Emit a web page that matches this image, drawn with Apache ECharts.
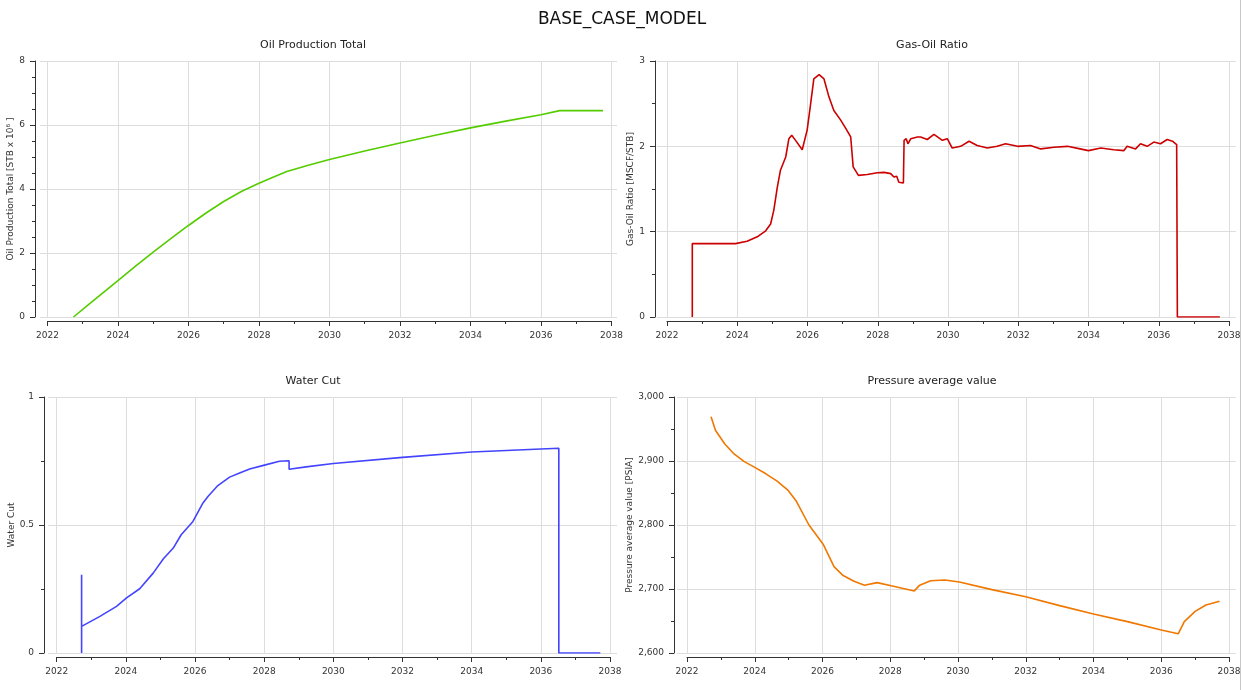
<!DOCTYPE html>
<html>
<head>
<meta charset="utf-8">
<script src="https://cdn.jsdelivr.net/npm/echarts@6/dist/echarts.min.js"></script>
<style>
html,body{margin:0;padding:0;background:#fff;}
#chart{width:1244px;height:690px;}
</style>
</head>
<body>
<div id="chart"></div>
<script>
// ---------------- DATA ----------------
const mainTitle = 'BASE_CASE_MODEL';
const panelTitles = ['Oil Production Total', 'Gas-Oil Ratio', 'Water Cut', 'Pressure average value'];
const axisNames = ['Oil Production Total [STB x 10\u2076 ]', 'Gas-Oil Ratio [MSCF/STB]', 'Water Cut', 'Pressure average value [PSIA]'];
const yearTicks = [2022, 2038, 2]; // min, max, interval

// Oil production total (STB x 10^6)
const oilYear  = [2022.74, 2023.2, 2023.6, 2024.0, 2024.5, 2025.0, 2025.5, 2026.0, 2026.5, 2027.0, 2027.5, 2028.0, 2028.4, 2028.79, 2029.4, 2030.0, 2031.0, 2032.0, 2033.0, 2034.0, 2035.0, 2036.0, 2036.53, 2037.76];
const oilValue = [0.0, 0.42, 0.78, 1.14, 1.59, 2.03, 2.45, 2.86, 3.25, 3.61, 3.92, 4.18, 4.37, 4.55, 4.74, 4.92, 5.19, 5.44, 5.68, 5.91, 6.12, 6.32, 6.45, 6.45];

// Gas-oil ratio (MSCF/STB)
const gorYear  = [2022.72, 2022.72, 2023.95, 2024.28, 2024.57, 2024.81, 2024.95, 2025.04, 2025.14, 2025.23, 2025.38, 2025.47, 2025.55, 2025.66, 2025.85, 2025.99, 2026.09, 2026.18, 2026.33, 2026.47, 2026.61, 2026.75, 2026.94, 2027.09, 2027.23, 2027.3, 2027.45, 2027.7, 2027.99, 2028.18, 2028.37, 2028.46, 2028.54, 2028.6, 2028.73, 2028.75, 2028.81, 2028.86, 2028.94, 2029.13, 2029.22, 2029.41, 2029.6, 2029.84, 2029.98, 2030.12, 2030.36, 2030.6, 2030.83, 2031.12, 2031.4, 2031.64, 2031.98, 2032.35, 2032.64, 2033.02, 2033.4, 2033.76, 2034.0, 2034.35, 2034.72, 2035.01, 2035.1, 2035.34, 2035.48, 2035.67, 2035.86, 2036.05, 2036.24, 2036.39, 2036.51, 2036.53, 2037.74];
const gorValue = [0.0, 0.86, 0.86, 0.887, 0.94, 1.01, 1.09, 1.25, 1.52, 1.72, 1.875, 2.09, 2.13, 2.07, 1.96, 2.19, 2.5, 2.79, 2.84, 2.79, 2.58, 2.42, 2.31, 2.21, 2.11, 1.76, 1.66, 1.67, 1.69, 1.695, 1.68, 1.64, 1.65, 1.58, 1.57, 2.07, 2.09, 2.03, 2.09, 2.11, 2.11, 2.08, 2.14, 2.07, 2.09, 1.98, 2.0, 2.06, 2.01, 1.98, 2.0, 2.03, 2.0, 2.01, 1.97, 1.99, 2.0, 1.97, 1.95, 1.98, 1.96, 1.95, 2.0, 1.97, 2.03, 2.0, 2.05, 2.03, 2.08, 2.06, 2.02, 0.0, 0.0];

// Water cut (fraction)
const wcYear  = [2022.72, 2022.72, 2022.72, 2022.77, 2023.25, 2023.73, 2024.02, 2024.4, 2024.79, 2025.08, 2025.37, 2025.6, 2025.94, 2026.23, 2026.38, 2026.66, 2027.0, 2027.29, 2027.58, 2027.98, 2028.44, 2028.72, 2028.72, 2029.21, 2030.0, 2032.0, 2034.0, 2036.0, 2036.52, 2036.52, 2037.72];
const wcValue = [0.0, 0.306, 0.104, 0.107, 0.143, 0.182, 0.215, 0.251, 0.312, 0.367, 0.41, 0.462, 0.514, 0.586, 0.612, 0.654, 0.687, 0.703, 0.719, 0.733, 0.749, 0.751, 0.718, 0.727, 0.74, 0.764, 0.785, 0.797, 0.80, 0.0, 0.0];

// Pressure average value (PSIA)
const presYear  = [2022.71, 2022.84, 2023.11, 2023.37, 2023.69, 2024.0, 2024.33, 2024.65, 2024.97, 2025.23, 2025.6, 2026.03, 2026.34, 2026.61, 2026.93, 2027.24, 2027.61, 2028.03, 2028.71, 2028.87, 2029.19, 2029.61, 2030.04, 2031.0, 2032.0, 2033.0, 2034.0, 2035.0, 2036.0, 2036.5, 2036.68, 2037.0, 2037.32, 2037.72];
const presValue = [2969, 2948, 2927, 2912, 2899, 2890, 2880, 2869, 2855, 2837, 2800, 2769, 2735, 2721, 2712, 2706, 2710, 2705, 2697, 2706, 2713, 2714, 2711, 2699, 2688, 2674, 2661, 2649, 2636, 2630, 2649, 2665, 2675, 2681];

const yRanges = [[0, 8, 2, 4], [0, 3, 1, 2], [0, 1, 0.5, 2], [2600, 3000, 100, 2]]; // min, max, interval, minor split
const seriesColors = ['#55cc00', '#cc0000', '#4444ff', '#f07800'];

// ---------------- LAYOUT ----------------
const FONT = 'DejaVu Sans';
const TXT = '#333333';
const GRIDC = '#dddddd';
const panels = [
  {dL: 47.4, dR: 611.5, top: 61, bot: 317, wL: 40, wR: 617, axisX: 35, nameGap: 14.5, tx: 313, ty: 40},
  {dL: 667, dR: 1229, top: 61, bot: 317, wL: 657, wR: 1236, axisX: 655, nameGap: 16.5, tx: 932, ty: 40},
  {dL: 56.7, dR: 610, top: 397, bot: 653, wL: 48, wR: 617, axisX: 44, nameGap: 24.5, tx: 313, ty: 376},
  {dL: 687, dR: 1229, top: 397, bot: 653, wL: 677, wR: 1236, axisX: 674, nameGap: 34.5, tx: 932, ty: 376}
];
const dataSets = [[oilYear, oilValue], [gorYear, gorValue], [wcYear, wcValue], [presYear, presValue]];

function fmtY(i, v) {
  if (i === 3) return v.toLocaleString('en-US');
  return String(v);
}

const grids = [], xAxes = [], yAxes = [], series = [], titles = [];
titles.push({text: mainTitle, left: 622, top: 11, padding: 0, textAlign: 'center',
  textStyle: {fontFamily: FONT, fontSize: 17, fontWeight: 'normal', color: '#111'}});

panels.forEach((p, i) => {
  const [ymin, ymax, yint, ysplit] = yRanges[i];
  grids.push({left: p.dL, top: p.top, width: p.dR - p.dL, height: p.bot - p.top, containLabel: false});
  grids.push({left: p.wL, top: p.top, width: p.wR - p.wL, height: p.bot - p.top, containLabel: false});
  const gD = 2 * i, gW = 2 * i + 1;
  xAxes.push({
    type: 'value', gridIndex: gD, min: yearTicks[0], max: yearTicks[1], interval: yearTicks[2],
    offset: 4,
    axisLine: {show: true, onZero: false, lineStyle: {color: '#333', width: 1}},
    axisTick: {show: true, length: 5, lineStyle: {color: '#333', width: 1}},
    minorTick: {show: true, splitNumber: 2, length: 3, lineStyle: {color: '#333', width: 1}},
    axisLabel: {formatter: v => String(v), fontFamily: FONT, fontSize: 9, color: TXT, margin: 10},
    splitLine: {show: true, lineStyle: {color: GRIDC, width: 1}}
  });
  xAxes.push({type: 'value', gridIndex: gW, min: 0, max: 1, show: false});
  yAxes.push({
    type: 'value', gridIndex: gD, min: ymin, max: ymax, interval: yint,
    offset: p.dL - p.axisX,
    name: axisNames[i], nameLocation: 'middle', nameGap: p.nameGap,
    nameTextStyle: {fontFamily: FONT, fontSize: 9, color: TXT},
    axisLine: {show: true, onZero: false, lineStyle: {color: '#333', width: 1}},
    axisTick: {show: true, length: 5, lineStyle: {color: '#333', width: 1}},
    minorTick: {show: true, splitNumber: ysplit, length: 3, lineStyle: {color: '#333', width: 1}},
    axisLabel: {formatter: v => fmtY(i, v), fontFamily: FONT, fontSize: 9, color: TXT, margin: 10},
    splitLine: {show: false}
  });
  yAxes.push({
    type: 'value', gridIndex: gW, min: ymin, max: ymax, interval: yint,
    axisLine: {show: false}, axisTick: {show: false}, axisLabel: {show: false},
    splitLine: {show: true, lineStyle: {color: GRIDC, width: 1}}
  });
  const [xs, ys] = dataSets[i];
  series.push({
    type: 'line', name: panelTitles[i], xAxisIndex: xAxes.length - 2, yAxisIndex: yAxes.length - 2,
    data: xs.map((x, k) => [x, ys[k]]),
    showSymbol: false, symbol: 'none', smooth: false,
    lineStyle: {color: seriesColors[i], width: 1.6}, itemStyle: {color: seriesColors[i]},
    z: 5
  });
  titles.push({text: panelTitles[i], left: p.tx, top: p.ty, padding: 0, textAlign: 'center',
    textStyle: {fontFamily: FONT, fontSize: 11, fontWeight: 'normal', color: '#222'}});
});

const chart = echarts.init(document.getElementById('chart'), null, {renderer: 'canvas'});
chart.setOption({
  backgroundColor: '#ffffff',
  animation: false,
  title: titles,
  grid: grids,
  xAxis: xAxes,
  yAxis: yAxes,
  series: series,
  graphic: [{type: 'line', shape: {x1: 1240.5, y1: 0, x2: 1240.5, y2: 690}, style: {stroke: '#c8c8c8', lineWidth: 1}, silent: true}]
});
</script>
</body>
</html>
